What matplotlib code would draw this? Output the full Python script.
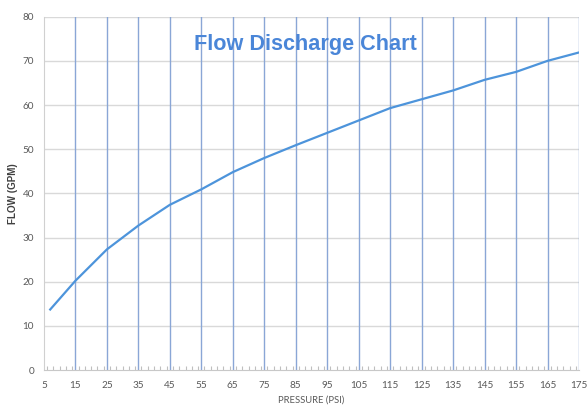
import matplotlib
matplotlib.use("Agg")
import matplotlib.pyplot as plt
from matplotlib.ticker import MultipleLocator

# Flow vs. pressure readings
pressure_psi = [7, 15, 25, 35, 45, 55, 65, 75, 85, 95, 105, 115, 125, 135, 145, 155, 165, 175]
flow_gpm = [13.7, 20.2, 27.3, 32.7, 37.4, 40.9, 44.8, 48.0, 50.9, 53.7, 56.5, 59.3, 61.3, 63.3, 65.7, 67.5, 70.0, 71.9]

x_ticks = list(range(5, 176, 10))
y_ticks = list(range(0, 81, 10))
title = "Flow Discharge Chart"
x_label = "PRESSURE (PSI)"
y_label = "FLOW (GPM)"

fig = plt.figure(figsize=(5.87, 4.07), dpi=100)
ax = fig.add_axes([0.0748, 0.0909, 0.9116, 0.8681])

ax.set_xlim(5, 175)
ax.set_ylim(0, 80)

# horizontal gridlines
for yv in y_ticks[1:]:
    ax.axhline(yv, color="#d9d9d9", lw=1.0, zorder=1)
# vertical blue lines at each labelled pressure
for xv in x_ticks[1:]:
    ax.axvline(xv, color="#8aa6d6", lw=1.0, zorder=1)

ax.plot(pressure_psi, flow_gpm, color="#4d94db", lw=1.6, zorder=3,
        solid_joinstyle="round")

for side in ["top", "right"]:
    ax.spines[side].set_visible(False)
ax.spines["left"].set_color("#d0d0d0")
ax.spines["bottom"].set_color("#c8c8c8")

ax.set_xticks(x_ticks)
ax.set_yticks(y_ticks)
ax.xaxis.set_minor_locator(MultipleLocator(2))
ax.tick_params(axis="x", which="major", length=0, pad=8, labelsize=7.2, labelcolor="#595959")
ax.tick_params(axis="x", which="minor", direction="in", length=3, color="#bfbfbf", width=0.8)
ax.tick_params(axis="y", which="both", length=0, pad=7, labelsize=7.2, labelcolor="#595959")
for lbl in ax.get_xticklabels() + ax.get_yticklabels():
    lbl.set_fontfamily("Lato")

ax.set_xlabel(x_label, fontsize=6.8, color="#595959", family="Lato", labelpad=4)
ax.set_ylabel(y_label, fontsize=7.1, color="#404040", family="Liberation Sans",
              fontweight="bold", labelpad=3.5)

ax.text(0.488, 0.922, title, transform=ax.transAxes, ha="center", va="center",
        fontsize=15.6, fontweight="bold", color="#4a86d8", family="Liberation Sans", zorder=4)

fig.savefig("out.png", dpi=100)
